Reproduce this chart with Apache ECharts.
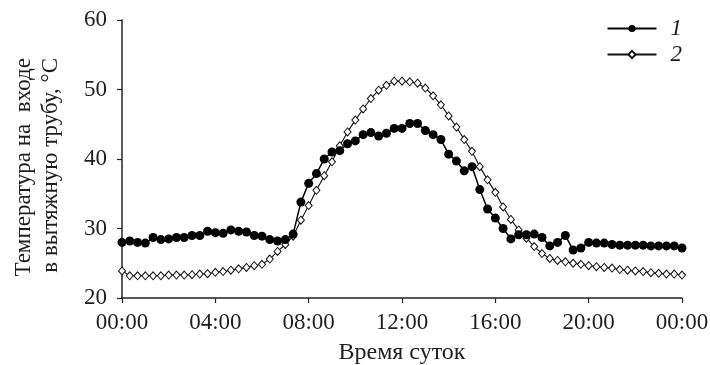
<!DOCTYPE html>
<html>
<head>
<meta charset="utf-8">
<script src="https://cdn.jsdelivr.net/npm/echarts@6/dist/echarts.min.js"></script>
<style>html,body{margin:0;padding:0;background:#fff}#c{width:710px;height:365px}</style>
</head>
<body>
<div id="c"></div>
<script>
// time of day in minutes (20-minute sampling, 00:00 .. 24:00)
var stepMinutes = 20;
var pointCount = 73;
var times = [];
for (var i = 0; i < pointCount; i++) times.push(i * stepMinutes);

var xTickLabels = ['00:00','04:00','08:00','12:00','16:00','20:00','00:00'];
var legendNames = ['1', '2'];
var yTitleLines = ['Температура на  входе', 'в вытяжную трубу, °C'];
var xTitle = 'Время суток';

var series1 = [28.0,28.2,28.0,27.9,28.7,28.4,28.5,28.7,28.7,29.0,29.0,29.6,29.4,29.3,29.8,29.6,29.5,29.0,28.9,28.4,28.2,28.4,29.2,
  33.8,36.5,37.9,40.0,41.0,41.2,42.2,42.6,43.5,43.8,43.3,43.7,44.4,44.4,45.1,45.1,44.1,43.5,42.8,40.7,39.7,38.3,38.9,35.6,32.8,31.5,30.0,
  28.5,29.1,29.1,29.2,28.7,27.5,28.0,29.0,26.9,27.2,28.0,27.9,27.9,27.7,27.6,27.6,27.6,27.6,27.5,27.5,27.5,27.5,27.2];
var series2 = [23.9,23.2,23.2,23.2,23.2,23.2,23.3,23.3,23.3,23.35,23.45,23.5,23.7,23.8,24.0,24.2,24.4,24.65,24.85,25.6,26.7,27.7,28.9,
  31.2,33.3,35.5,37.6,39.6,41.9,43.9,45.6,47.2,48.7,49.9,50.6,51.2,51.2,51.1,50.9,50.2,49.1,47.8,46.2,44.6,42.8,41.1,38.9,37.0,35.2,33.1,
  31.3,29.8,28.6,27.4,26.4,25.7,25.4,25.2,25.0,24.85,24.65,24.5,24.4,24.3,24.1,24.0,23.9,23.8,23.65,23.55,23.45,23.45,23.3];

function pairs(vals){ return vals.map(function(v,i){ return [times[i], v]; }); }

var FONT = '"Liberation Serif","DejaVu Serif",serif';
var TXT = '#1e1e1e';

var chart = echarts.init(document.getElementById('c'), null, {renderer:'canvas'});
chart.setOption({
  animation:false,
  backgroundColor:'#fff',
  grid:{left:122, right:28, top:20, bottom:67, containLabel:false, outerBoundsMode:'none'},
  legend:{
    data:legendNames, orient:'vertical', right:23, top:12,
    itemWidth:49, itemHeight:9, itemGap:3,
    textStyle:{fontFamily:FONT, fontSize:23, fontStyle:'italic', color:TXT, padding:[0,0,0,9]}
  },
  xAxis:{
    type:'value', min:0, max:1440, interval:240,
    name:xTitle, nameLocation:'middle', nameGap:43,
    nameTextStyle:{fontFamily:FONT, fontSize:24, color:TXT},
    axisLine:{lineStyle:{color:'#222', width:1.5}},
    axisTick:{show:true, length:5, lineStyle:{color:'#222', width:1.2}},
    axisLabel:{margin:13, fontFamily:FONT, fontSize:23, color:TXT,
      formatter:function(v){ return xTickLabels[Math.round(v/240)]; }},
    splitLine:{show:false}
  },
  yAxis:{
    type:'value', min:20, max:60, interval:10,
    axisLine:{show:true, lineStyle:{color:'#222', width:1.5}},
    axisTick:{show:true, length:5, lineStyle:{color:'#222', width:1.2}},
    axisLabel:{margin:15, fontFamily:FONT, fontSize:23, color:TXT, padding:[5,0,0,0]},
    splitLine:{show:false}
  },
  graphic:[
    {type:'text', x:24, y:58, rotation:Math.PI/2,
     style:{text:yTitleLines[0], font:'23px ' + FONT, fill:TXT, align:'right', verticalAlign:'middle', textAlign:'right', textVerticalAlign:'middle'}},
    {type:'text', x:51, y:58, rotation:Math.PI/2,
     style:{text:yTitleLines[1], font:'23px ' + FONT, fill:TXT, align:'right', verticalAlign:'middle', textAlign:'right', textVerticalAlign:'middle'}}
  ],
  series:[
    {name:legendNames[1], type:'line', data:pairs(series2), symbol:'diamond', symbolSize:[7,8],
     lineStyle:{color:'#111', width:1.1}, itemStyle:{color:'#fff', borderColor:'#111', borderWidth:1}, z:2},
    {name:legendNames[0], type:'line', data:pairs(series1), symbol:'circle', symbolSize:9,
     lineStyle:{color:'#000', width:1.5}, itemStyle:{color:'#000', borderColor:'#000', borderWidth:0}, z:3}
  ]
});
</script>
</body>
</html>
